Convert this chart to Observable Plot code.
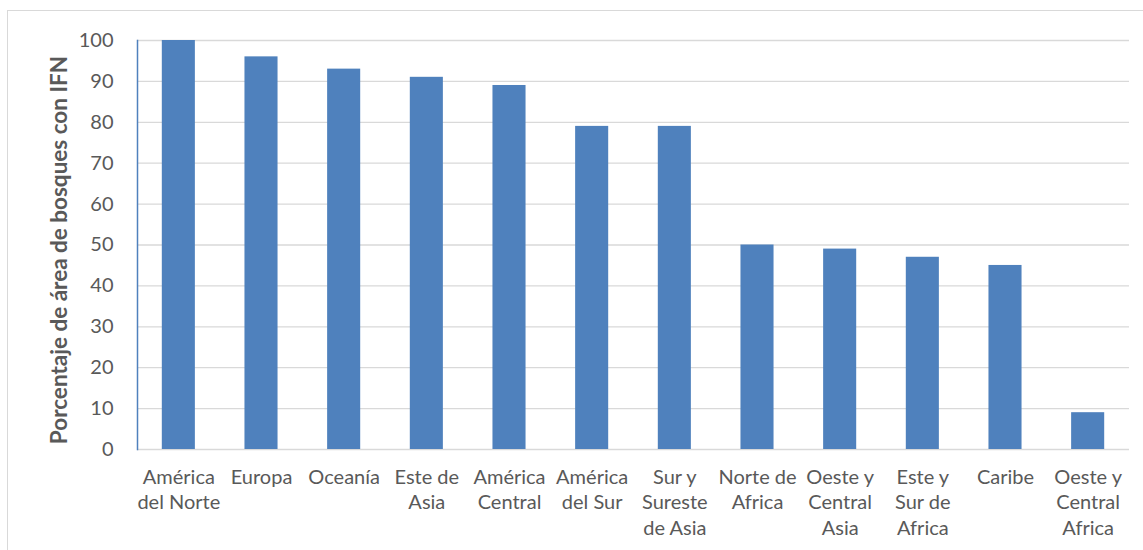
<!DOCTYPE html>
<html><head><meta charset="utf-8">
<script src="https://cdn.jsdelivr.net/npm/d3@7"></script>
<script src="https://cdn.jsdelivr.net/npm/@observablehq/plot@0.6"></script>
<style>
html,body{margin:0;padding:0;background:#fff;}
#wrap{position:relative;width:1143px;height:550px;overflow:hidden;}
#frame{position:absolute;left:7px;top:10px;width:1200px;height:600px;border:1px solid #d9d9d9;box-sizing:border-box;}
#chart{position:absolute;left:0;top:0;}
</style></head>
<body><div id="wrap"><div id="frame"></div><div id="chart"></div></div>
<script>
const regions = ["América\ndel Norte","Europa","Oceanía","Este de\nAsia","América\nCentral","América\ndel Sur","Sur y\nSureste\nde Asia","Norte de\nAfrica","Oeste y\nCentral\nAsia","Este y\nSur de\nAfrica","Caribe","Oeste y\nCentral\nAfrica"];
const values = [100,96,93,91,89,79,79,50,49,47,45,9];
const yTicks = [0,10,20,30,40,50,60,70,80,90,100];
const yLabel = "Porcentaje de área de bosques con IFN";
const data = regions.map((r,i)=>({region:r, value:values[i]}));

const chart = Plot.plot({
  width: 1143, height: 550,
  marginLeft: 137, marginRight: 14, marginTop: 40, marginBottom: 101,
  style: {fontFamily: "Lato, 'Open Sans', sans-serif", fontSize: "20px", color: "#595959", background: "transparent"},
  x: {domain: regions, paddingInner: 0.6, paddingOuter: 0.3, round: false, label: null},
  y: {domain: [0,100], ticks: yTicks, label: null},
  marks: [
    Plot.gridY(yTicks, {stroke: "#d9d9d9", strokeOpacity: 1, strokeWidth: 1.3}),
    Plot.barY(data, {x: "region", y: "value", fill: "#4f81bd"}),
    Plot.axisY(yTicks, {tickSize: 0, tickPadding: 24, fill: "#595959", fontSize: 20}),
    Plot.axisX({tickSize: 0, tickPadding: 16, lineHeight: 1.28, fill: "#595959", fontSize: 20}),
    Plot.text([yLabel], {frameAnchor: "left", dx: -78, dy: 5, rotate: -90, textAnchor: "middle", fontWeight: "bold", fontSize: 22.5, fill: "#595959"}),
    Plot.frame({anchor: "left", stroke: "#4f81bd", strokeWidth: 1.5})
  ]
});
document.getElementById("chart").appendChild(chart);
</script></body></html>
